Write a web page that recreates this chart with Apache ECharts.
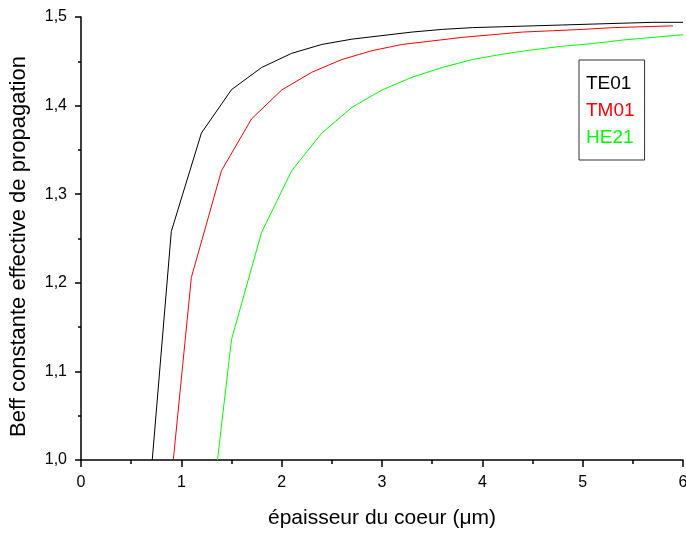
<!DOCTYPE html>
<html>
<head>
<meta charset="utf-8">
<script src="https://cdn.jsdelivr.net/npm/echarts@6/dist/echarts.min.js"></script>
<style>html,body{margin:0;padding:0;background:#fff}#c{width:686px;height:534px}</style>
</head>
<body>
<div id="c"></div>
<script>
const seriesNames = ['TE01', 'TM01', 'HE21'];
const seriesColors = ['#000000', '#ff0000', '#00ff00'];
const te01X = [0.71, 0.9, 1.2, 1.5, 1.8, 2.1, 2.4, 2.7, 3.0, 3.3, 3.6, 3.9, 4.2, 4.5, 4.8, 5.1, 5.4, 5.7, 6.0];
const te01Y = [1.0, 1.258, 1.369, 1.418, 1.443, 1.459, 1.469, 1.475, 1.479, 1.483, 1.486, 1.488, 1.489, 1.490, 1.491, 1.492, 1.493, 1.494, 1.494];
const tm01X = [0.92, 1.1, 1.4, 1.7, 2.0, 2.3, 2.6, 2.9, 3.2, 3.5, 3.8, 4.1, 4.4, 4.7, 5.0, 5.3, 5.6, 5.9];
const tm01Y = [1.0, 1.206, 1.3265, 1.385, 1.4176, 1.4376, 1.452, 1.462, 1.469, 1.473, 1.477, 1.480, 1.483, 1.4845, 1.486, 1.488, 1.489, 1.490];
const he21X = [1.36, 1.5, 1.8, 2.1, 2.4, 2.7, 3.0, 3.3, 3.6, 3.9, 4.2, 4.5, 4.8, 5.1, 5.4, 5.7, 6.0];
const he21Y = [1.0, 1.136, 1.257, 1.3265, 1.369, 1.398, 1.4176, 1.432, 1.443, 1.452, 1.458, 1.463, 1.467, 1.470, 1.474, 1.477, 1.480];
const xTicks = { min: 0, max: 6, interval: 1 };
const yTicks = { min: 1.0, max: 1.5, interval: 0.1 };
const xName = 'épaisseur du coeur (\u03bcm)';
const yName = 'Beff constante effective de propagation';

const xs = [te01X, tm01X, he21X];
const ys = [te01Y, tm01Y, he21Y];

const chart = echarts.init(document.getElementById('c'), null, { renderer: 'canvas' });
const font = 'Arial, "Liberation Sans", sans-serif';
function axisBase(majorLen, minorLen, nameSize, namePad) {
  return {
    axisLine: { show: true, lineStyle: { color: '#000', width: 1.5 } },
    axisTick: { show: true, inside: false, length: majorLen, lineStyle: { color: '#000', width: 1.5 } },
    minorTick: { show: true, splitNumber: 2, length: minorLen, lineStyle: { color: '#000', width: 1.5 } },
    splitLine: { show: false },
    nameLocation: 'middle',
    nameTextStyle: { color: '#000', fontSize: nameSize, fontFamily: font, padding: namePad }
  };
}
chart.setOption({
  animation: false,
  backgroundColor: '#fff',
  grid: { left: 81, right: 3, top: 17, bottom: 74, containLabel: false, outerBoundsMode: 'none' },
  xAxis: Object.assign(axisBase(7, 4, 21, 0), {
    type: 'value', min: xTicks.min, max: xTicks.max, interval: xTicks.interval,
    name: xName, nameGap: 48,
    axisLabel: { color: '#000', fontSize: 16, fontFamily: font, margin: 15 }
  }),
  yAxis: Object.assign(axisBase(6, 3, 22, [0, 16, 0, 0]), {
    type: 'value', min: yTicks.min, max: yTicks.max, interval: yTicks.interval,
    name: yName, nameGap: 51,
    axisLabel: { color: '#000', fontSize: 16, fontFamily: font, margin: 14,
      formatter: v => v.toFixed(1).replace('.', ',') }
  }),
  legend: {
    orient: 'vertical', left: 579, top: 60,
    icon: 'none', itemWidth: 0, itemHeight: 10, itemGap: 0,
    padding: [10, 10, 9, 2],
    borderColor: '#333', borderWidth: 1,
    data: seriesNames.map((n, i) => ({ name: n, textStyle: { color: seriesColors[i] } })),
    textStyle: { fontSize: 19, fontFamily: font, lineHeight: 27 }
  },
  series: seriesNames.map((n, i) => ({
    name: n, type: 'line', showSymbol: false, symbol: 'none', clip: true,
    lineStyle: { color: seriesColors[i], width: 1 },
    itemStyle: { color: seriesColors[i] },
    data: xs[i].map((x, j) => [x, ys[i][j]])
  }))
});
</script>
</body>
</html>
